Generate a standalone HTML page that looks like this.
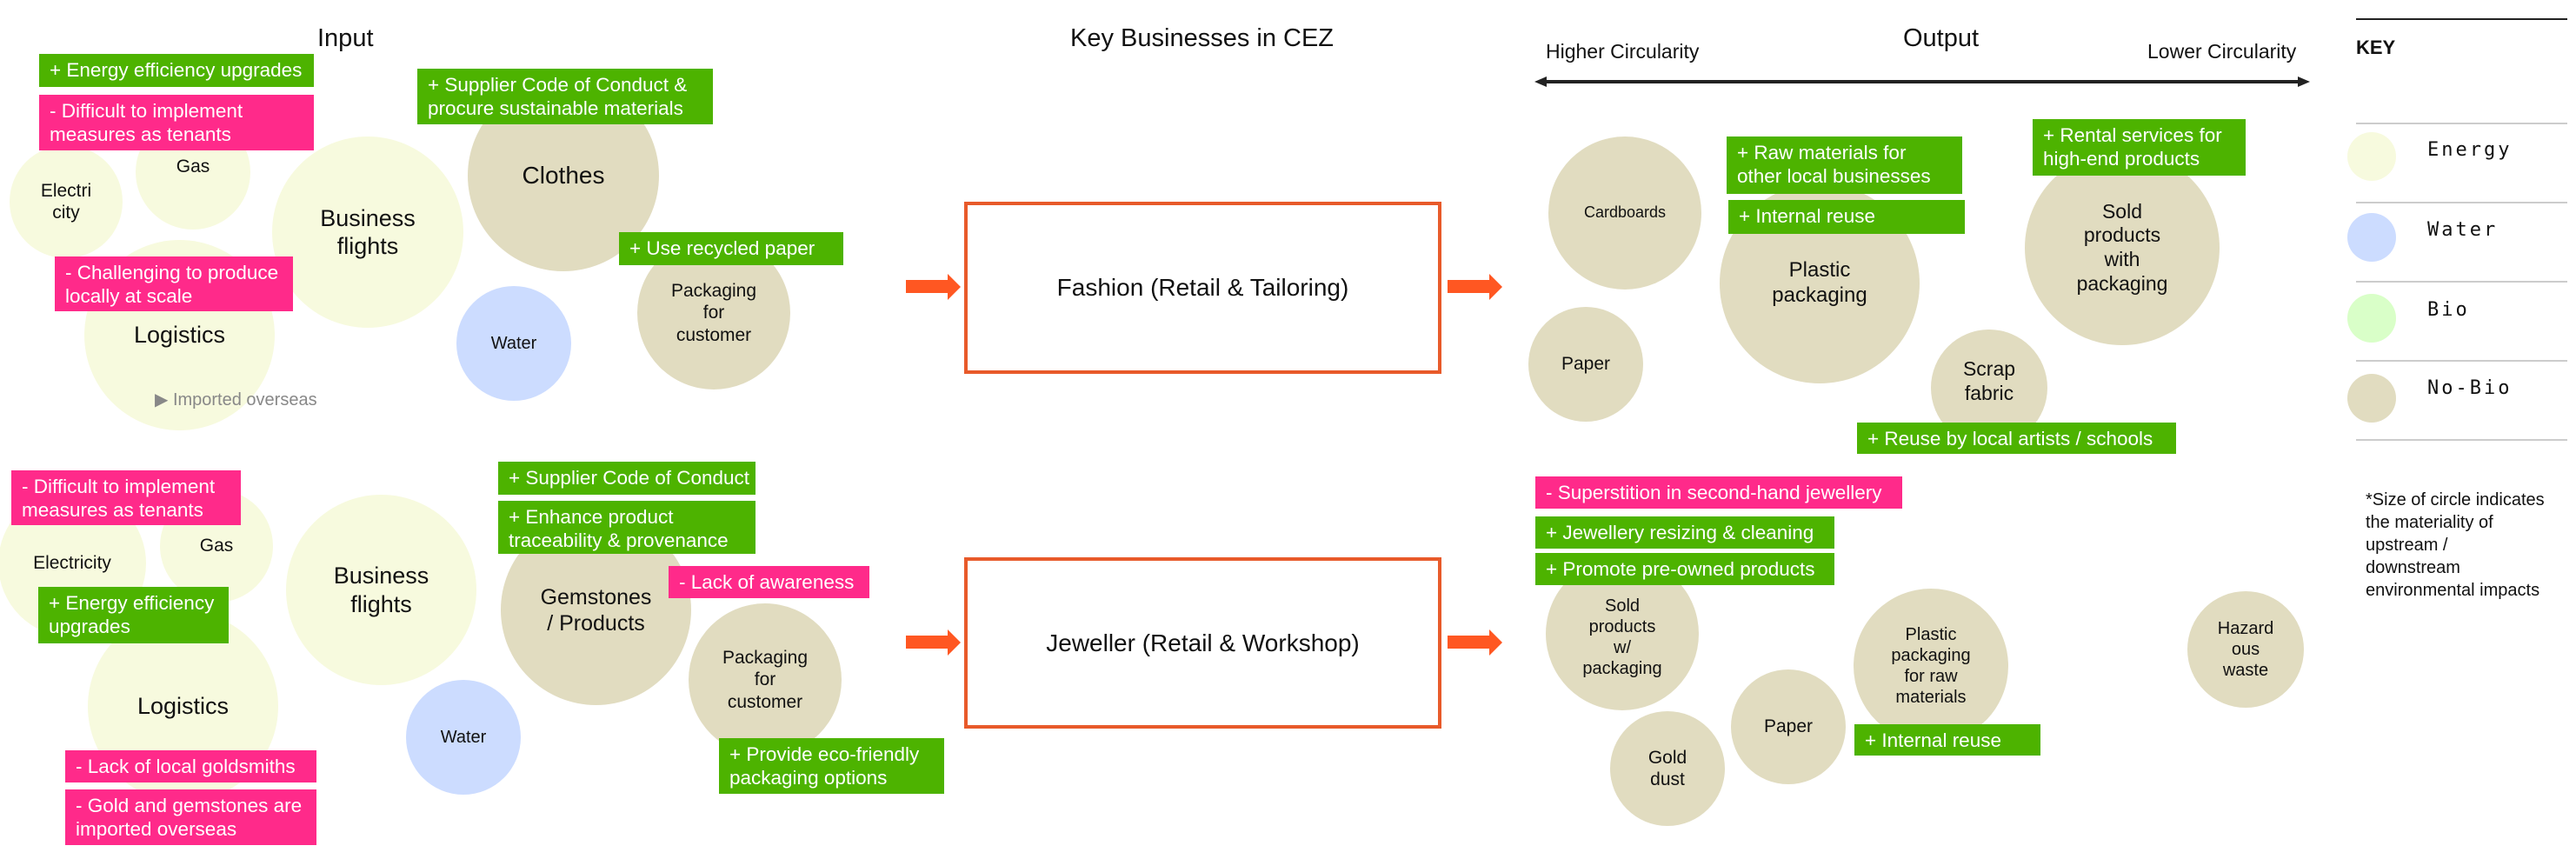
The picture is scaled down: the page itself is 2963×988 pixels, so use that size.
<!DOCTYPE html>
<html><head><meta charset="utf-8"><style>
*{margin:0;padding:0;box-sizing:border-box}
body{width:2963px;height:988px;background:#fff;position:relative;overflow:hidden;font-family:"Liberation Sans",sans-serif;color:#111}
.a{position:absolute}
.c{position:absolute;border-radius:50%;display:flex;align-items:center;justify-content:center;text-align:center;line-height:1.2}
.e{background:#f7fade}.w{background:#ccdcff}.n{background:#e1dcc0}.b{background:#d9ffc8}
.g,.p{position:absolute;color:#fff;font-size:22.5px;line-height:27px;padding:5px 12px;white-space:nowrap}
.g{background:#4db300}.p{background:#ff2a8a}
.t{position:absolute;font-size:29px;white-space:nowrap}
.arr{position:absolute;width:63px;height:30px}
.box{position:absolute;border:4px solid #e85a2a;display:flex;align-items:center;justify-content:center;font-size:28px}
.key{position:absolute;left:2710px;width:243px;height:2px;background:#ccc}
.kt{position:absolute;left:2792px;font-family:"DejaVu Sans Mono","Liberation Mono",monospace;font-size:22px;letter-spacing:3px}
</style></head><body>

<div class="t" style="left:365px;top:28px">Input</div>
<div class="t" style="left:1231px;top:28px">Key Businesses in CEZ</div>
<div class="t" style="left:2189px;top:28px">Output</div>
<div class="t" style="left:1778px;top:46px;font-size:23px">Higher Circularity</div>
<div class="t" style="left:2470px;top:46px;font-size:23px">Lower Circularity</div>
<svg class="a" style="left:1765px;top:84px" width="900" height="20"><line x1="12" y1="10" x2="880" y2="10" stroke="#222" stroke-width="4"/><polygon points="0,10 14,4 14,16" fill="#222"/><polygon points="892,10 878,4 878,16" fill="#222"/></svg>

<!-- KEY -->
<div class="a" style="left:2710px;top:21px;width:243px;height:2px;background:#222"></div>
<div class="t" style="left:2710px;top:42px;font-size:22px;font-weight:bold">KEY</div>
<div class="key" style="top:141px"></div><div class="key" style="top:232px"></div><div class="key" style="top:323px"></div><div class="key" style="top:414px"></div><div class="key" style="top:505px"></div>
<div class="c e" style="left:2700px;top:152px;width:56px;height:56px"></div>
<div class="c w" style="left:2700px;top:245px;width:56px;height:56px"></div>
<div class="c b" style="left:2700px;top:338px;width:56px;height:56px"></div>
<div class="c n" style="left:2700px;top:430px;width:56px;height:56px"></div>
<div class="kt" style="top:160px">Energy</div>
<div class="kt" style="top:252px">Water</div>
<div class="kt" style="top:344px">Bio</div>
<div class="kt" style="top:434px">No-Bio</div>
<div class="a" style="left:2721px;top:562px;font-size:20px;line-height:26px;white-space:nowrap">*Size of circle indicates<br>the materiality of<br>upstream /<br>downstream<br>environmental impacts</div>

<!-- Boxes & arrows -->
<div class="box" style="left:1109px;top:232px;width:549px;height:198px">Fashion (Retail &amp; Tailoring)</div>
<div class="box" style="left:1109px;top:641px;width:549px;height:197px">Jeweller (Retail &amp; Workshop)</div>
<svg class="arr" style="left:1042px;top:315px"><polygon points="0,7 48,7 48,0 63,15 48,30 48,22 0,22" fill="#ff5722"/></svg>
<svg class="arr" style="left:1665px;top:315px"><polygon points="0,7 48,7 48,0 63,15 48,30 48,22 0,22" fill="#ff5722"/></svg>
<svg class="arr" style="left:1042px;top:724px"><polygon points="0,7 48,7 48,0 63,15 48,30 48,22 0,22" fill="#ff5722"/></svg>
<svg class="arr" style="left:1665px;top:724px"><polygon points="0,7 48,7 48,0 63,15 48,30 48,22 0,22" fill="#ff5722"/></svg>

<!-- Input top -->
<div class="c e" style="left:11px;top:167px;width:130px;height:130px;font-size:21px">Electri<br>city</div>
<div class="c e" style="left:156px;top:132px;width:132px;height:132px;font-size:21px;padding-bottom:12px">Gas</div>
<div class="c e" style="left:313px;top:157px;width:220px;height:220px;font-size:27px">Business<br>flights</div>
<div class="c e" style="left:97px;top:276px;width:219px;height:219px;font-size:27px">Logistics</div>
<div class="c n" style="left:538px;top:92px;width:220px;height:220px;font-size:28px">Clothes</div>
<div class="c w" style="left:525px;top:329px;width:132px;height:132px;font-size:20px">Water</div>
<div class="c n" style="left:733px;top:272px;width:176px;height:176px;font-size:21px">Packaging<br>for<br>customer</div>
<div class="a" style="left:178px;top:447px;font-size:20px;color:#888">&#9654; Imported overseas</div>
<div class="g" style="left:45px;top:62px;width:316px;height:38px">+ Energy efficiency upgrades</div>
<div class="p" style="left:45px;top:109px;width:316px;height:64px">- Difficult to implement<br>measures as tenants</div>
<div class="p" style="left:63px;top:295px;width:274px;height:63px">- Challenging to produce<br>locally at scale</div>
<div class="g" style="left:480px;top:79px;width:340px;height:64px">+ Supplier Code of Conduct &amp;<br>procure sustainable materials</div>
<div class="g" style="left:712px;top:267px;width:258px;height:38px">+ Use recycled paper</div>

<!-- Input bottom -->
<div class="c e" style="left:-2px;top:563px;width:170px;height:170px;font-size:21px">Electricity</div>
<div class="c e" style="left:184px;top:563px;width:130px;height:130px;font-size:21px">Gas</div>
<div class="c e" style="left:329px;top:569px;width:219px;height:219px;font-size:27px">Business<br>flights</div>
<div class="c e" style="left:101px;top:703px;width:219px;height:219px;font-size:27px">Logistics</div>
<div class="c w" style="left:467px;top:782px;width:132px;height:132px;font-size:20px">Water</div>
<div class="c n" style="left:576px;top:592px;width:219px;height:219px;font-size:25px">Gemstones<br>/ Products</div>
<div class="c n" style="left:792px;top:694px;width:176px;height:176px;font-size:21px">Packaging<br>for<br>customer</div>
<div class="p" style="left:13px;top:541px;width:264px;height:63px">- Difficult to implement<br>measures as tenants</div>
<div class="g" style="left:44px;top:675px;width:219px;height:65px">+ Energy efficiency<br>upgrades</div>
<div class="p" style="left:75px;top:863px;width:289px;height:37px">- Lack of local goldsmiths</div>
<div class="p" style="left:75px;top:908px;width:289px;height:64px">- Gold and gemstones are<br>imported overseas</div>
<div class="g" style="left:573px;top:531px;width:296px;height:38px">+ Supplier Code of Conduct</div>
<div class="g" style="left:573px;top:576px;width:296px;height:61px">+ Enhance product<br>traceability &amp; provenance</div>
<div class="p" style="left:769px;top:651px;width:231px;height:37px">- Lack of awareness</div>
<div class="g" style="left:827px;top:849px;width:259px;height:64px">+ Provide eco-friendly<br>packaging options</div>

<!-- Output top -->
<div class="c n" style="left:1781px;top:157px;width:176px;height:176px;font-size:18px">Cardboards</div>
<div class="c n" style="left:1758px;top:353px;width:132px;height:132px;font-size:21px">Paper</div>
<div class="c n" style="left:1978px;top:211px;width:230px;height:230px;font-size:24px">Plastic<br>packaging</div>
<div class="c n" style="left:2329px;top:173px;width:224px;height:224px;font-size:23px">Sold<br>products<br>with<br>packaging</div>
<div class="c n" style="left:2221px;top:379px;width:134px;height:134px;font-size:23px;padding-bottom:14px">Scrap<br>fabric</div>
<div class="g" style="left:1986px;top:157px;width:271px;height:66px">+ Raw materials for<br>other local businesses</div>
<div class="g" style="left:1988px;top:230px;width:272px;height:39px">+ Internal reuse</div>
<div class="g" style="left:2338px;top:137px;width:245px;height:65px">+ Rental services for<br>high-end products</div>
<div class="g" style="left:2136px;top:486px;width:367px;height:36px">+ Reuse by local artists / schools</div>

<!-- Output bottom -->
<div class="c n" style="left:1778px;top:641px;width:176px;height:176px;font-size:20px;padding-top:8px">Sold<br>products<br>w/<br>packaging</div>
<div class="c n" style="left:1852px;top:818px;width:132px;height:132px;font-size:21px">Gold<br>dust</div>
<div class="c n" style="left:1991px;top:770px;width:132px;height:132px;font-size:21px">Paper</div>
<div class="c n" style="left:2132px;top:677px;width:178px;height:178px;font-size:20px">Plastic<br>packaging<br>for raw<br>materials</div>
<div class="c n" style="left:2516px;top:680px;width:134px;height:134px;font-size:20px">Hazard<br>ous<br>waste</div>
<div class="p" style="left:1766px;top:548px;width:422px;height:37px">- Superstition in second-hand jewellery</div>
<div class="g" style="left:1766px;top:594px;width:344px;height:37px">+ Jewellery resizing &amp; cleaning</div>
<div class="g" style="left:1766px;top:636px;width:344px;height:37px">+ Promote pre-owned products</div>
<div class="g" style="left:2133px;top:833px;width:214px;height:36px">+ Internal reuse</div>
</body></html>
